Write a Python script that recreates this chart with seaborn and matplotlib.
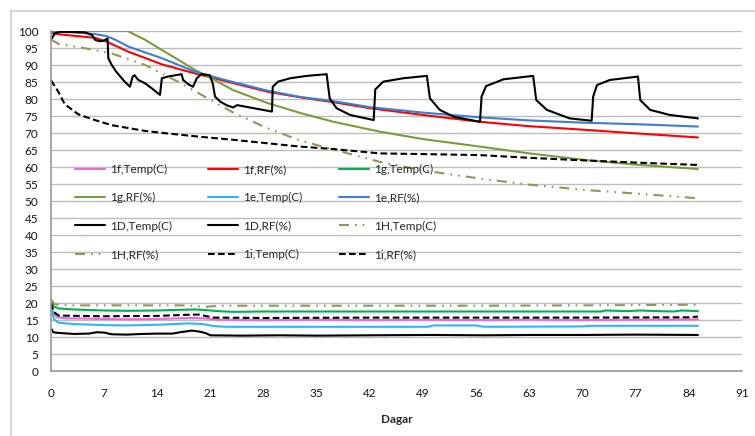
import matplotlib
matplotlib.use("Agg")
import matplotlib.pyplot as plt
from matplotlib.lines import Line2D
import seaborn as sns

# ---------------- measured series (day, value) ----------------
f_temp_days = [0, 0.3, 0.8, 2, 5, 7, 10, 14, 17, 19, 20.5, 22, 28, 35, 42, 49, 56, 63, 70, 77, 85.2]
f_temp_vals = [20.5, 17.0, 15.8, 15.5, 15.4, 15.3, 15.2, 15.3, 15.5, 15.6, 15.4, 15.1, 15.0, 15.1, 15.0, 15.1, 15.0, 15.1, 15.0, 15.1, 15.2]

f_rf_days = [0, 1.2, 3, 5.8, 7.3, 10.2, 14.6, 19, 22.9, 28.4, 32.8, 37.1, 42, 49, 56.5, 63, 70.6, 77, 85.2]
f_rf_vals = [99.5, 99.0, 98.6, 98.0, 96.9, 93.9, 90.2, 87.5, 85.3, 82.2, 80.5, 79.1, 77.3, 75.3, 73.3, 72.0, 70.9, 69.9, 68.7]

g_temp_days = [0, 0.3, 1, 3, 7, 10, 14, 17, 19, 20.5, 22, 24, 28, 35, 42, 49, 56, 63, 70, 72.5, 73, 76, 77.5, 80, 82, 83, 85.2]
g_temp_vals = [21.0, 19.0, 18.4, 18.1, 17.8, 17.7, 17.8, 18.0, 18.1, 17.9, 17.6, 17.4, 17.5, 17.5, 17.5, 17.5, 17.5, 17.5, 17.5, 17.5, 17.8, 17.6, 17.8, 17.6, 17.5, 17.8, 17.6]

g_rf_days = [0, 10.1, 12.4, 14.6, 16.8, 19, 21.2, 24, 28.4, 32.8, 37.2, 43.3, 49, 56.5, 63, 70.6, 77, 85.2]
g_rf_vals = [100, 100, 97.4, 94.4, 91.5, 88.5, 86.0, 82.6, 78.9, 75.9, 73.3, 70.4, 68.2, 66.0, 64.0, 62.0, 60.7, 59.4]

e_temp_days = [0, 0.4, 1, 3, 7, 10, 14, 18, 20, 21.5, 23, 35, 49.5, 50.5, 56, 57, 70, 71, 85.2]
e_temp_vals = [19.0, 15.2, 14.2, 13.8, 13.5, 13.4, 13.6, 14.0, 13.8, 13.2, 13.0, 13.0, 13.0, 13.4, 13.4, 13.0, 13.1, 13.3, 13.3]

e_rf_days = [0, 3, 5.8, 7.3, 8.5, 10.2, 14.6, 19, 22.9, 28.4, 32.8, 37.1, 42, 49, 56.5, 63, 70.6, 77, 85.2]
e_rf_vals = [99.8, 99.6, 99.1, 98.5, 97.4, 95.4, 92.0, 88.0, 85.6, 82.5, 80.6, 79.4, 77.6, 76.0, 74.6, 73.7, 73.0, 72.6, 71.9]

d_temp_days = [0, 0.3, 1, 3, 5, 6, 7, 8, 10, 12, 14, 16, 17, 18, 18.5, 19.5, 20.3, 21, 25, 30, 35, 42, 50, 57, 63, 70, 77, 85.2]
d_temp_vals = [12.5, 11.4, 11.2, 10.9, 11.0, 11.4, 11.3, 10.8, 10.7, 10.9, 11.0, 11.0, 11.4, 11.7, 11.9, 11.6, 11.2, 10.5, 10.4, 10.5, 10.4, 10.5, 10.6, 10.5, 10.6, 10.6, 10.7, 10.6]

d_rf_days = [0, 0.5, 1.2, 3, 4.5, 5.4, 5.8, 6.4, 6.9, 7.45,
             7.55, 8, 8.6, 9.7, 10.4, 10.75, 11, 11.5, 12.4, 13.3,
             14.35, 14.6, 15.4, 17.2, 17.4, 18.1, 18.7, 19.2, 19.8, 20.9,
             21.3, 21.6, 22.3, 23.1, 24, 24.5, 26.2, 29.1, 29.2, 29.9,
             31.5, 33.7, 36.3, 36.7, 37.6, 39.4, 42.5, 42.7, 43.75, 46.4,
             49.5, 49.9, 51.2, 53, 56.5, 56.7, 57.3, 59.6, 63.5, 63.9,
             65.3, 68.3, 71.2, 71.4, 71.9, 73.6, 77.3, 77.6, 78.9, 81.5,
             85.2]
d_rf_vals = [97.4, 99.3, 99.8, 99.7, 99.6, 98.8, 97.4, 97.0, 97.1, 97.8,
             92.0, 90.0, 88.0, 85.1, 83.6, 86.6, 87.0, 85.6, 84.6, 83.1,
             81.2, 86.1, 86.6, 87.3, 85.6, 84.3, 83.6, 86.1, 87.3, 87.0,
             84.6, 80.7, 79.2, 78.2, 77.5, 78.2, 77.5, 76.3, 83.6, 85.1,
             86.1, 86.8, 87.3, 80.2, 77.3, 75.3, 73.8, 82.8, 85.1, 86.1,
             86.8, 80.2, 76.8, 74.8, 73.3, 80.7, 83.8, 85.8, 86.8, 79.7,
             76.8, 74.3, 73.6, 80.7, 84.1, 85.6, 86.6, 79.7, 76.8, 75.3,
             74.3]

h_temp_days = [0, 0.5, 3, 7, 14, 18, 19.5, 20.5, 22, 28, 42, 56, 70, 85.2]
h_temp_vals = [21.0, 19.6, 19.3, 19.3, 19.3, 19.3, 19.0, 18.9, 19.2, 19.2, 19.2, 19.2, 19.3, 19.5]

h_rf_days = [0, 1, 3.6, 8, 12.4, 16.8, 21.2, 24, 28.4, 32.8, 37.1, 43.3, 49, 56.5, 63, 70.6, 77, 85.2]
h_rf_vals = [97.5, 96.2, 95.3, 93.4, 90.0, 85.0, 79.5, 76.0, 71.5, 67.8, 65.2, 61.5, 59.0, 56.6, 54.8, 53.2, 52.2, 50.8]

i_temp_days = [0, 0.3, 1, 7, 14, 17.5, 19.5, 20.5, 21.5, 28, 42, 56, 70, 84, 85.2]
i_temp_vals = [20.0, 17.5, 16.3, 16.1, 16.2, 16.5, 16.6, 16.1, 15.7, 15.6, 15.7, 15.7, 15.7, 15.8, 16.0]

i_rf_days = [0, 1, 1.8, 3.6, 5.5, 8, 12.4, 15.2, 19.6, 24, 28.4, 32.8, 37.1, 43.3, 49, 56.5, 63, 70.6, 77, 85.2]
i_rf_vals = [85.5, 82.0, 78.5, 75.5, 74.0, 72.3, 70.6, 69.9, 68.9, 68.0, 67.0, 66.0, 65.3, 64.0, 63.8, 63.5, 62.7, 61.9, 61.3, 60.6]

x_ticks = list(range(0, 92, 7))
y_ticks = list(range(0, 101, 5))

# ---------------- styling ----------------
sns.set_style("white")
plt.rcParams["font.family"] = ["Lato", "DejaVu Sans"]

DASHDOTDOT = (0, (4.8, 2.9, 0.8, 2.9, 0.8, 2.9))
DASHED = (0, (3.2, 1.6))

series = [
    ("1f,Temp(C)", f_temp_days, f_temp_vals, "#F066D8", "-"),
    ("1f,RF(%)", f_rf_days, f_rf_vals, "#FF0000", "-"),
    ("1g,Temp(C)", g_temp_days, g_temp_vals, "#00B050", "-"),
    ("1g,RF(%)", g_rf_days, g_rf_vals, "#7C9C3C", "-"),
    ("1e,Temp(C)", e_temp_days, e_temp_vals, "#2DB7F2", "-"),
    ("1e,RF(%)", e_rf_days, e_rf_vals, "#3A80CE", "-"),
    ("1D,Temp(C)", d_temp_days, d_temp_vals, "#000000", "-"),
    ("1D,RF(%)", d_rf_days, d_rf_vals, "#000000", "-"),
    ("1H,Temp(C)", h_temp_days, h_temp_vals, "#9C9060", DASHDOTDOT),
    ("1H,RF(%)", h_rf_days, h_rf_vals, "#9C9060", DASHDOTDOT),
    ("1i,Temp(C)", i_temp_days, i_temp_vals, "#000000", DASHED),
    ("1i,RF(%)", i_rf_days, i_rf_vals, "#000000", DASHED),
]

W, H = 755, 436
fig = plt.figure(figsize=(W / 100, H / 100), dpi=100)
ax = fig.add_axes([51 / W, (H - 371) / H, 691 / W, 340 / H])

handles = []
for label, days, vals, color, ls in series:
    sns.lineplot(x=days, y=vals, ax=ax, color=color, linewidth=1.5,
                 linestyle=ls, estimator=None, sort=False, legend=False)
    handles.append(Line2D([], [], color=color, linewidth=1.5, linestyle=ls))

ax.set_xlim(0, 91)
ax.set_ylim(0, 100)
ax.set_xticks(x_ticks)
ax.set_yticks(y_ticks)
ax.yaxis.grid(True, color="#BDBDBD", linewidth=1.0)
ax.set_axisbelow(True)
for side in ("top", "right"):
    ax.spines[side].set_visible(False)
for side in ("left", "bottom"):
    ax.spines[side].set_color("#9A9A9A")
    ax.spines[side].set_linewidth(1.2)
ax.tick_params(axis="both", which="major", direction="out", length=4,
               width=1.0, color="#9A9A9A", labelsize=8.5, labelcolor="#151515")
ax.tick_params(axis="x", pad=8)
ax.tick_params(axis="y", pad=5)
ax.set_xlabel("Dagar", fontsize=8.5, fontweight="bold", labelpad=11)
ax.set_ylabel("")

# legend laid out row by row in three columns
order = [0, 3, 6, 9, 1, 4, 7, 10, 2, 5, 8, 11]
leg = ax.legend([handles[i] for i in order], [series[i][0] for i in order],
                ncol=3, loc="upper left",
                bbox_to_anchor=(75 / W, 1 - 164 / H), bbox_transform=fig.transFigure,
                frameon=False, fontsize=8.5, handlelength=2.5, handletextpad=0.45,
                columnspacing=3.1, labelspacing=1.46, borderpad=0, borderaxespad=0)

# light chart border
fig.add_artist(Line2D([11 / W, 1], [1 - 11 / H, 1 - 11 / H], color="#D4D4D4",
                      linewidth=1.5, transform=fig.transFigure))
fig.add_artist(Line2D([11 / W, 11 / W], [0, 1 - 11 / H], color="#D4D4D4",
                      linewidth=1.5, transform=fig.transFigure))

fig.savefig("out.png", dpi=100)
